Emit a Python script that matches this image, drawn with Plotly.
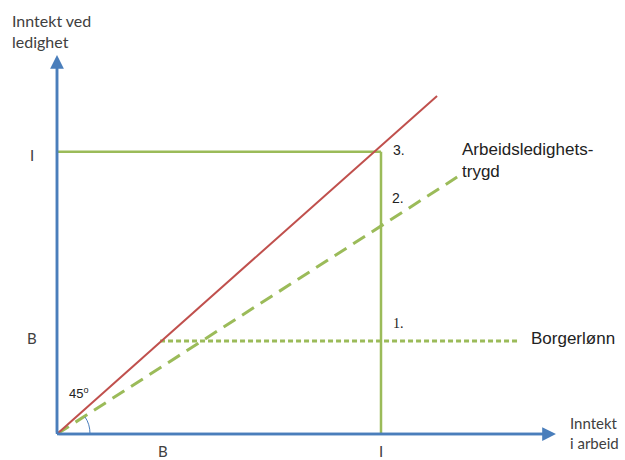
import plotly.graph_objects as go

# Values (conceptual diagram units: I = income in work level)
income_x = [0.0, 1.173]          # 45-degree line x
income_y = [0.0, 1.174]          # 45-degree line y
trygd_x = [0.0, 1.235]           # unemployment insurance (dashed)
trygd_y = [0.0, 0.892]
borger_x = [0.318, 1.42]         # basic income (dotted)
borger_y = [0.323, 0.323]
I_level = 1.0
I_y = 0.98
B_level = 0.327
B_y = 0.333

BLUE = "#4A7EBB"
RED = "#C0504D"
GREEN = "#9BBB59"
TXT = "#404040"

fig = go.Figure()

# green guide lines at I
fig.add_trace(go.Scatter(x=[0, I_level], y=[I_y, I_y], mode="lines",
                         line=dict(color=GREEN, width=2.5), hoverinfo="skip"))
fig.add_trace(go.Scatter(x=[I_level, I_level], y=[0, I_y], mode="lines",
                         line=dict(color=GREEN, width=2.5), hoverinfo="skip"))
# dashed trygd
fig.add_trace(go.Scatter(x=trygd_x, y=trygd_y, mode="lines",
                         line=dict(color=GREEN, width=3, dash="14px,8px"), hoverinfo="skip"))
# dotted borgerlønn
fig.add_trace(go.Scatter(x=borger_x, y=borger_y, mode="lines",
                         line=dict(color=GREEN, width=3, dash="5px,3px"), hoverinfo="skip"))
# red 45 line
fig.add_trace(go.Scatter(x=income_x, y=income_y, mode="lines",
                         line=dict(color=RED, width=2), hoverinfo="skip"))

xr = [-57 / 324, 568 / 324]
yr = [-26 / 288, 434 / 288]

annotations = []
# axis arrows
annotations.append(dict(x=1.54, y=0, ax=0, ay=0, xref="x", yref="y", axref="x", ayref="y",
                        showarrow=True, arrowhead=2, arrowsize=1.1, arrowwidth=2.5,
                        arrowcolor=BLUE, text=""))
annotations.append(dict(x=0, y=1.316, ax=0, ay=0, xref="x", yref="y", axref="x", ayref="y",
                        showarrow=True, arrowhead=2, arrowsize=1.1, arrowwidth=2.5,
                        arrowcolor=BLUE, text=""))


def px(xp):
    return (xp - 57) / 324


def py(yp):
    return (434 - yp) / 288


def txt(text, x, y, xanchor="left", yanchor="middle", size=14, family="Lato, sans-serif", color=TXT):
    annotations.append(dict(text=text, x=px(x), y=py(y), xref="x", yref="y", showarrow=False,
                            xanchor=xanchor, yanchor=yanchor, align="left",
                            font=dict(size=size, family=family, color=color)))


txt("Inntekt ved<br>ledighet", 10, 9, yanchor="top", size=16)
txt("I", 32, 155, xanchor="center", size=15)
txt("B", 32, 338, xanchor="center", size=15)
txt("45<sup>o</sup>", 67, 393, size=13, family="Liberation Sans, Arial", color="#222222")
txt("B", 163, 451, xanchor="center", size=15)
txt("I", 381, 451, xanchor="center", size=15)
txt("Inntekt<br>i arbeid", 568, 433, size=15)
txt("3.", 391, 150, size=14, family="Liberation Sans, Arial", color="#222222")
txt("2.", 390, 198, size=14, family="Liberation Sans, Arial", color="#222222")
txt("1.", 391, 323, size=14, family="Liberation Serif, serif", color="#222222")
txt("Arbeidsledighets-<br>trygd", 460, 160, size=17, family="Liberation Sans, Arial", color="#222222")
txt("Borgerlønn", 529, 338, size=17, family="Liberation Sans, Arial", color="#222222")

shapes = [
    dict(type="line", x0=0, y0=0, x1=1.50, y1=0, xref="x", yref="y",
         line=dict(color=BLUE, width=2.5)),
    dict(type="line", x0=0, y0=0, x1=0, y1=1.28, xref="x", yref="y",
         line=dict(color=BLUE, width=2.5)),
    dict(type="path", xref="x", yref="y",
         path=f"M {px(90)},{py(434)} Q {px(90)},{py(424)} {px(85)},{py(417)}",
         line=dict(color=BLUE, width=1)),
]

fig.update_layout(
    width=625, height=460,
    margin=dict(l=0, r=0, t=0, b=0),
    paper_bgcolor="white", plot_bgcolor="white",
    showlegend=False,
    xaxis=dict(range=xr, visible=False, fixedrange=True),
    yaxis=dict(range=yr, visible=False, fixedrange=True),
    annotations=annotations,
    shapes=shapes,
)

fig.write_html("out.html", config={"displayModeBar": False},
               post_script="document.body.style.margin='0';document.body.style.overflow='hidden';")
